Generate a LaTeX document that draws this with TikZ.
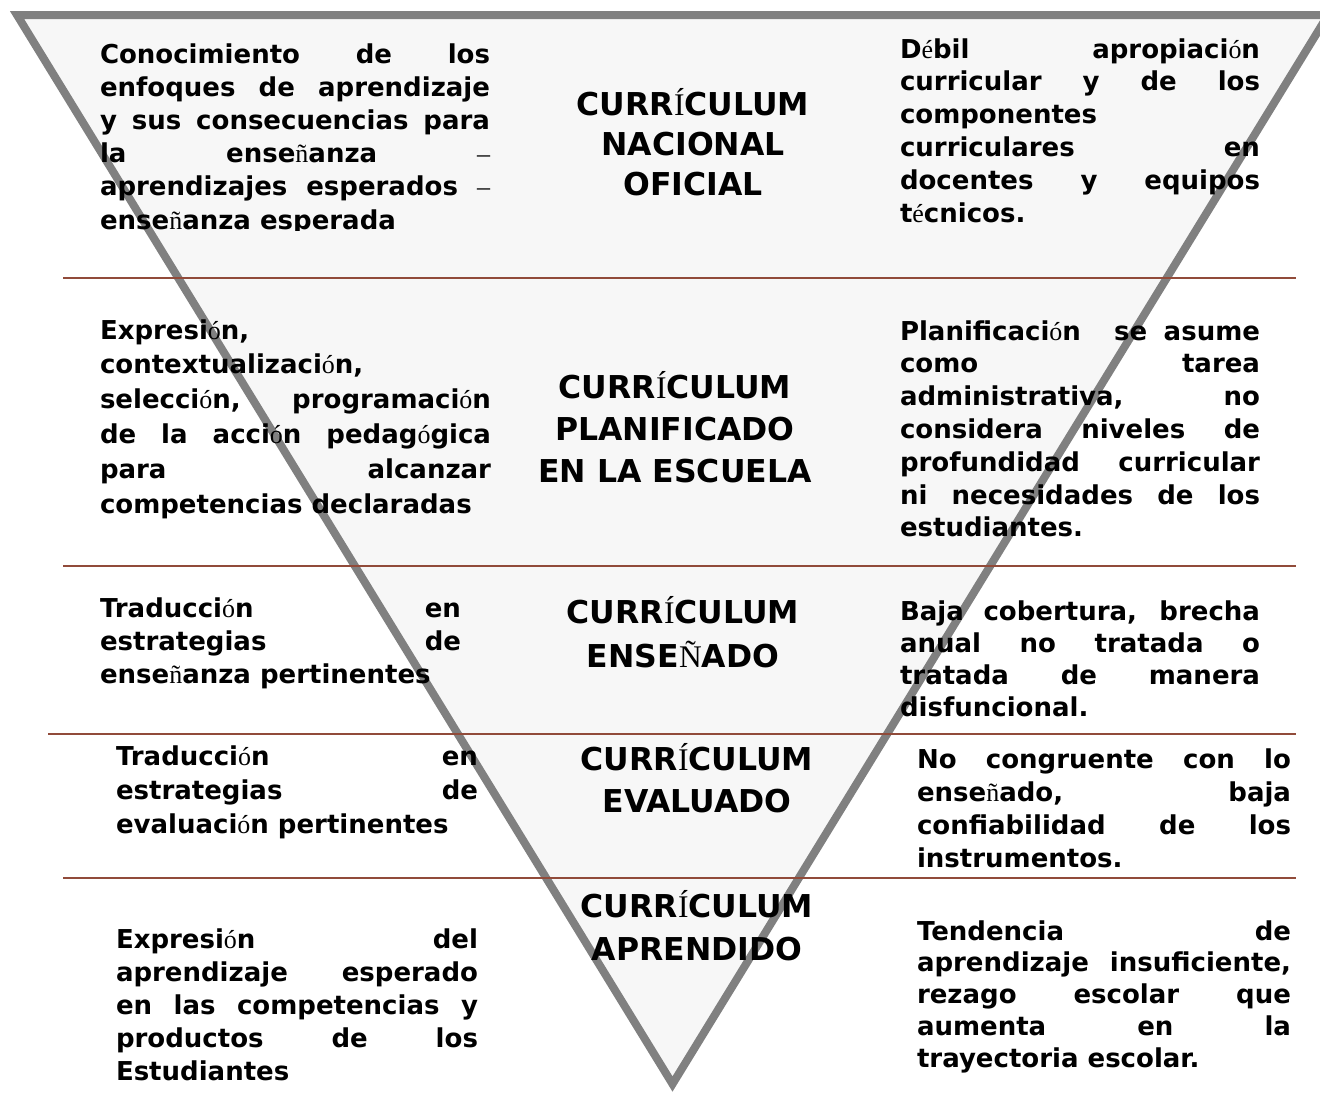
\documentclass[tikz,border=0pt]{standalone}
\usepackage{fontspec}
\setmainfont{DejaVu Sans}
\newfontfamily\accf{Liberation Serif}
\newcommand\ac[1]{{\accf\mdseries #1}}
\newcommand\bodytxt[3]{\parbox[t]{#1pt}{\fontsize{26}{#2}\selectfont\bfseries\tolerance=10000\hyphenpenalty=10000\exhyphenpenalty=10000\parindent=0pt #3}}
\newcommand\ttltxt[2]{\parbox[t]{340pt}{\centering\fontsize{31.5}{#1}\selectfont\bfseries #2}}
\definecolor{trigray}{RGB}{128,128,128}
\definecolor{trifill}{RGB}{247,247,247}
\definecolor{sepline}{RGB}{145,75,58}
\tikzset{
  body/.style={anchor=base west, inner sep=0pt, outer sep=0pt},
  ttl/.style={anchor=base, inner sep=0pt, outer sep=0pt},
  septr/.style={draw=sepline, line width=2.4pt},
}
\begin{document}
\begin{tikzpicture}[x=1pt,y=-1pt]
\useasboundingbox (0,0) rectangle (1320,1119);
% inverted triangle
\coordinate (tl) at (17,15);
\coordinate (tr) at (1328,15);
\coordinate (ap) at (672.5,1084);
\begin{scope}
\clip (0,0) rectangle (1320,1119);
\draw[draw=trigray, fill=trifill, line width=8pt, miter limit=20] (tl) -- (tr) -- (ap) -- cycle;
\end{scope}
% separator lines
\coordinate (s1a) at (63,278);  \coordinate (s1b) at (1296,278);
\coordinate (s2a) at (63,566);  \coordinate (s2b) at (1296,566);
\coordinate (s3a) at (48,734);  \coordinate (s3b) at (1296,734);
\coordinate (s4a) at (63,878);  \coordinate (s4b) at (1296,878);
\draw[septr] (s1a) -- (s1b);
\draw[septr] (s2a) -- (s2b);
\draw[septr] (s3a) -- (s3b);
\draw[septr] (s4a) -- (s4b);
% titles
\node[ttl] (t1) at (693,115) {\ttltxt{40}{CURR\ac{Í}CULUM\\NACIONAL\\OFICIAL}};
\node[ttl] (t2) at (675,398) {\ttltxt{42}{CURR\ac{Í}CULUM\\PLANIFICADO\\EN LA ESCUELA}};
\node[ttl] (t3) at (683,623) {\ttltxt{44}{CURR\ac{Í}CULUM\\ENSE\ac{Ñ}ADO}};
\node[ttl] (t4) at (697,770) {\ttltxt{42}{CURR\ac{Í}CULUM\\EVALUADO}};
\node[ttl] (t5) at (697,917) {\ttltxt{43}{CURR\ac{Í}CULUM\\APRENDIDO}};
% left texts
\begin{scope}
\clip (0,0) rectangle (660,230);
\node[body] (l1) at (100,63) {\bodytxt{390}{33.2}{Conocimiento de los\linebreak enfoques de aprendizaje\linebreak y sus consecuencias para\linebreak la ense\ac{ñ}anza \ac{–}\linebreak aprendizajes esperados \ac{–}\linebreak ense\ac{ñ}anza esperada}};
\end{scope}
\node[body] (l2) at (100,339) {\bodytxt{391}{34.8}{Expresi\ac{ó}n,\linebreak contextualizaci\ac{ó}n,\linebreak selecci\ac{ó}n, programaci\ac{ó}n\linebreak de la acci\ac{ó}n pedag\ac{ó}gica\linebreak para alcanzar\linebreak competencias declaradas}};
\node[body] (l3) at (100,617) {\bodytxt{361}{33}{Traducci\ac{ó}n en\linebreak estrategias de\linebreak ense\ac{ñ}anza pertinentes}};
\node[body] (l4) at (116,765) {\bodytxt{362}{34}{Traducci\ac{ó}n en\linebreak estrategias de\linebreak evaluaci\ac{ó}n pertinentes}};
\node[body] (l5) at (116,948) {\bodytxt{362}{33}{Expresi\ac{ó}n del\linebreak aprendizaje esperado\linebreak en las competencias y\linebreak productos de los\linebreak Estudiantes}};
% right texts
\node[body] (r1) at (900,58) {\bodytxt{360}{32.8}{D\ac{é}bil apropiaci\ac{ó}n\linebreak curricular y de los\linebreak componentes\linebreak curriculares en\linebreak docentes y equipos\linebreak t\ac{é}cnicos.}};
\node[body] (r2) at (900,340) {\bodytxt{360}{32.8}{Planificaci\ac{ó}n\ \ se asume\linebreak como tarea\linebreak administrativa, no\linebreak considera niveles de\linebreak profundidad curricular\linebreak ni necesidades de los\linebreak estudiantes.}};
\node[body] (r3) at (900,620) {\bodytxt{360}{32.3}{Baja cobertura, brecha\linebreak anual no tratada o\linebreak tratada de manera\linebreak disfuncional.}};
\node[body] (r4) at (917,768) {\bodytxt{374}{33.3}{No congruente con lo\linebreak ense\ac{ñ}ado, baja\linebreak confiabilidad de los\linebreak instrumentos.}};
\node[body] (r5) at (917,940) {\bodytxt{374}{31.75}{Tendencia de\linebreak aprendizaje insuficiente,\linebreak rezago escolar que\linebreak aumenta en la\linebreak trayectoria escolar.}};
\end{tikzpicture}
\end{document}
